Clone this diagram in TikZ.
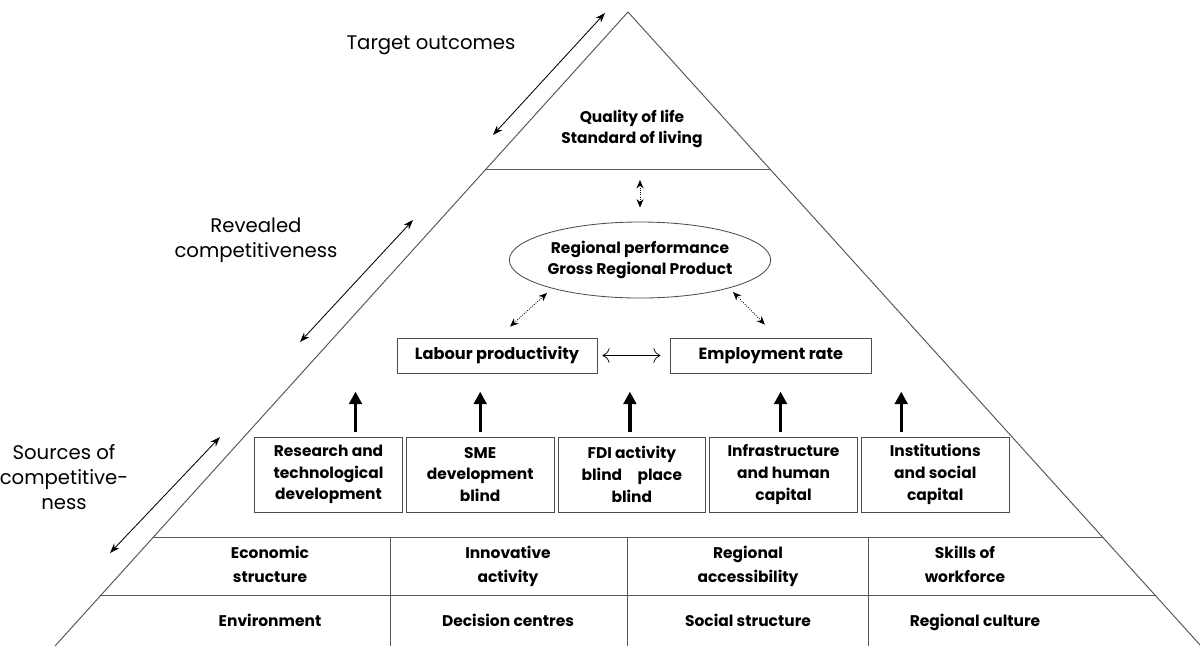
\documentclass[tikz,border=0pt]{standalone}
\usepackage{fontspec}
\setmainfont{Poppins}
\usetikzlibrary{shapes, arrows.meta, positioning, calc}
\tikzset{
    sidetext/.style={font=\fontsize{14}{18}\selectfont, align=center},
    cell/.style={font=\bfseries\fontsize{11}{17}\selectfont, align=center},
    srcbox/.style={rectangle, draw=black!70, line width=0.6pt, align=center, minimum width=3.69cm, minimum height=1.875cm, inner sep=1pt, font=\bfseries\fontsize{11}{15.4}\selectfont},
    outbox/.style={rectangle, draw=black!70, line width=0.6pt, minimum width=5cm, minimum height=0.875cm, font=\bfseries\fontsize{11.5}{12}\selectfont},
    side/.style={line width=0.6pt, {Stealth[length=7pt,width=5pt]}-{Stealth[length=7pt,width=5pt]}},
    link/.style={densely dotted, line width=0.6pt, {Stealth[length=6pt,width=5pt]}-{Stealth[length=6pt,width=5pt]}},
    uparrow/.style={line width=2.4pt, -{Triangle[length=9pt,width=9pt]}},
    pyr/.style={draw=black!65, line width=0.7pt}
}

\begin{document}
\begin{tikzpicture}[x=0.025cm, y=-0.025cm]
    \useasboundingbox (0,0) rectangle (1200,646);

    % Pyramid
    \draw[pyr] (55,646) -- (628,12) -- (1201,646);
    \draw[pyr] (486,169) -- (770,169);
    \draw[pyr] (153,537) -- (1103,537);
    \draw[pyr] (101,595) -- (1155,595);
    \foreach \x in {390, 627, 868}
        \draw[pyr] (\x,537) -- (\x,646);

    % Side labels
    \node[sidetext] (t1) at (431,45) {Target outcomes};
    \node[sidetext] (t2) at (256,240) {Revealed\\competitiveness};
    \node[sidetext] (t3) at (64,477) {Sources of\\competitive-\\ness};

    \coordinate (a1) at (493,135);
    \coordinate (b1) at (605,13);
    \coordinate (a2) at (300,342);
    \coordinate (b2) at (413,220);
    \coordinate (a3) at (110,553);
    \coordinate (b3) at (220,437);
    \draw[side] (a1) -- (b1);
    \draw[side] (a2) -- (b2);
    \draw[side] (a3) -- (b3);

    % Top tier
    \node[cell, font=\bfseries\fontsize{11}{15.5}\selectfont] (qol) at (632,129) {Quality of life\\Standard of living};

    % Revealed competitiveness
    \node[ellipse, draw=black!70, line width=0.6pt, minimum width=5.875cm, minimum height=1.9cm, inner sep=0pt, align=center, font=\bfseries\fontsize{11}{15.5}\selectfont] (perf) at (640,260) {Regional performance\\Gross Regional Product};
    \node[outbox] (lab) at (497,355.5) {Labour productivity};
    \node[outbox, right=1.825cm of lab] (emp) {Employment rate};

    \coordinate (q) at (640,180);
    \draw[link] (q) -- ([yshift=0.35cm]perf.north);
    \draw[link] ([xshift=0.325cm,yshift=0.275cm]lab.north) -- ($(perf)+(-93,33)$);
    \draw[link] ([xshift=-0.15cm,yshift=0.325cm]emp.north) -- ($(perf)+(93,32)$);
    \draw[line width=0.5pt, {To[length=5pt]}-{To[length=5pt]}, shorten <=0.125cm, shorten >=0.25cm] (lab) -- (emp);

    % Sources
    \node[srcbox] (s1) at (328.5,474.5) {Research and\\technological\\development};
    \node[srcbox, right=0.08cm of s1] (s2) {SME\\development\\blind};
    \node[srcbox, right=0.08cm of s2] (s3) {FDI activity\\blind\quad place\\blind};
    \node[srcbox, right=0.08cm of s3] (s4) {Infrastructure\\and human\\capital};
    \node[srcbox, right=0.08cm of s4] (s5) {Institutions\\and social\\capital};

    \draw[uparrow] ([xshift=0.675cm,yshift=0.125cm]s1.north) -- ++(0,1cm);
    \draw[uparrow] ([yshift=0.125cm]s2.north) -- ++(0,1cm);
    \draw[uparrow] ([xshift=-0.05cm,yshift=0.125cm]s3.north) -- ++(0,1cm);
    \draw[uparrow] ([xshift=-0.075cm,yshift=0.125cm]s4.north) -- ++(0,1cm);
    \draw[uparrow] ([xshift=-0.85cm,yshift=0.125cm]s5.north) -- ++(0,1cm);

    % Factors
    \node[cell, anchor=north] (f1) at (270,541) {Economic\\structure};
    \node[cell, anchor=north] (f2) at (508,541) {Innovative\\activity};
    \node[cell, anchor=north] (f3) at (748,541) {Regional\\accessibility};
    \node[cell, anchor=north] (f4) at (965,541) {Skills of\\workforce};
    \node[cell, anchor=base] (g1) at (270,626) {Environment};
    \node[cell, anchor=base] (g2) at (508,626) {Decision centres};
    \node[cell, anchor=base] (g3) at (748,626) {Social structure};
    \node[cell, anchor=base] (g4) at (975,626) {Regional culture};

\end{tikzpicture}
\end{document}
